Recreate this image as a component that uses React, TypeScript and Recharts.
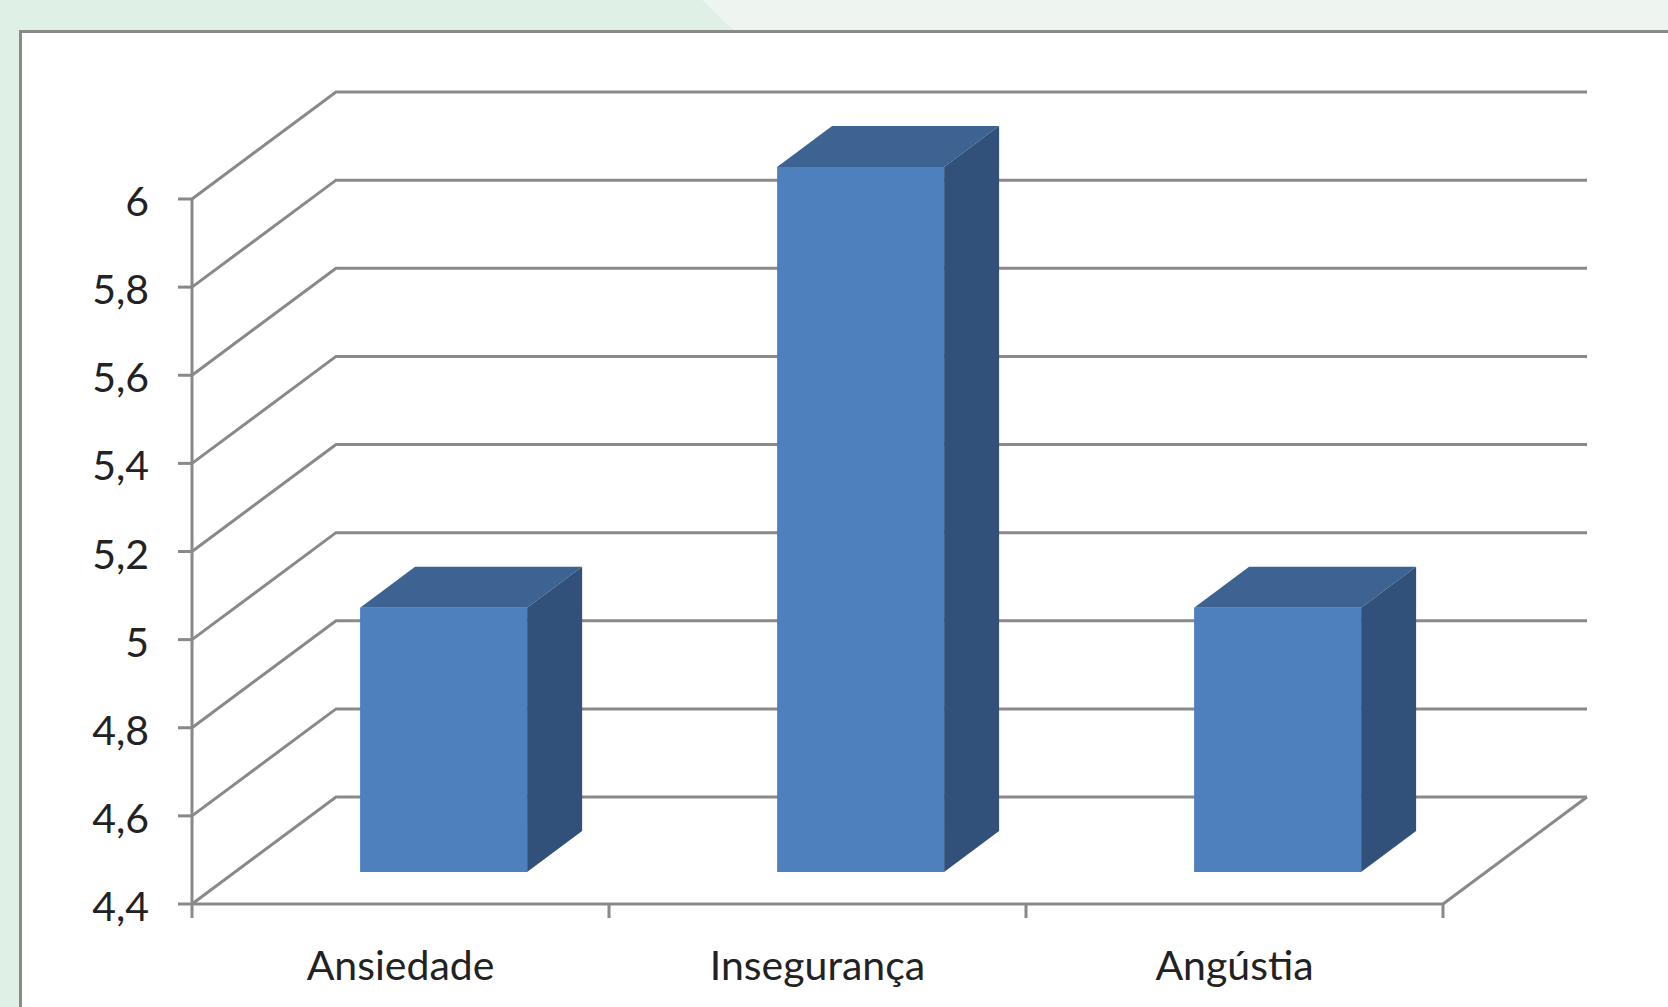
import { BarChart, Bar, XAxis, YAxis, CartesianGrid } from "recharts";

const categories = ["Ansiedade", "Insegurança", "Angústia"];
const values = [5, 6, 5];
const yTicks = [4.4, 4.6, 4.8, 5, 5.2, 5.4, 5.6, 5.8, 6];

const data = categories.map((name, i) => ({ name, value: values[i] }));

const FONT = "Lato, 'Open Sans', sans-serif";
const GRID = "#898989";
const TEXT = "#222";
const LINE_W = 3;

// fake 3D: back wall depth, bar position in the floor, bar depth
const WALL_DX = 144;
const WALL_DY = -107;
const SHIFT_X = 43;
const SHIFT_Y = -32;
const BOX_DX = 55;
const BOX_DY = -41;

function Box3D(props: any) {
  const { x, y, width, height } = props;
  if (!width || height == null) return null;
  const fx = x + SHIFT_X;
  const fy = y + SHIFT_Y;
  const r = fx + width;
  const b = fy + height;
  return (
    <g>
      <polygon
        points={`${fx},${fy} ${fx + BOX_DX},${fy + BOX_DY} ${r + BOX_DX},${fy + BOX_DY} ${r},${fy}`}
        fill="#3C6391"
      />
      <polygon
        points={`${r},${fy} ${r + BOX_DX},${fy + BOX_DY} ${r + BOX_DX},${b + BOX_DY} ${r},${b}`}
        fill="#31517A"
      />
      <rect x={fx} y={fy} width={width} height={height} fill="#4E80BD" />
    </g>
  );
}

function wallLine(p: any) {
  const { x1, y1, x2, y, height } = p;
  const bottom = Math.abs(y1 - (y + height)) < 1;
  return (
    <g key={p.key}>
      <polyline
        points={`${x1},${y1} ${x1 + WALL_DX},${y1 + WALL_DY} ${x2 + WALL_DX},${y1 + WALL_DY}`}
        fill="none"
        stroke={GRID}
        strokeWidth={LINE_W}
      />
      {bottom && (
        <line x1={x2} y1={y1} x2={x2 + WALL_DX} y2={y1 + WALL_DY} stroke={GRID} strokeWidth={LINE_W} />
      )}
    </g>
  );
}

function CategoryTick(props: any) {
  const { x, y, payload, index, visibleTicksCount } = props;
  const axisY = y - 14;
  const half = payload.offset || 0;
  return (
    <g>
      <line x1={x - half} y1={axisY} x2={x - half} y2={axisY + 14} stroke={GRID} strokeWidth={LINE_W} />
      {index === visibleTicksCount - 1 && (
        <line x1={x + half} y1={axisY} x2={x + half} y2={axisY + 14} stroke={GRID} strokeWidth={LINE_W} />
      )}
      <text x={x} y={axisY + 76} textAnchor="middle" fill={TEXT} fontSize={41} fontFamily={FONT}>
        {payload.value}
      </text>
    </g>
  );
}

function ValueTick(props: any) {
  const { x, y, payload } = props;
  return (
    <text x={x} y={y + 17} textAnchor="end" fill={TEXT} fontSize={41} fontFamily={FONT}>
      {String(payload.value).replace(".", ",")}
    </text>
  );
}

export default function App() {
  return (
    <div
      style={{
        position: "absolute",
        left: 0,
        top: 0,
        width: 1668,
        height: 1007,
        overflow: "hidden",
        background: "#dff0e6",
      }}
    >
      <div
        style={{
          position: "absolute",
          left: 0,
          top: 0,
          width: 1668,
          height: 32,
          background: "#eef5f1",
          clipPath: "polygon(702px 0, 100% 0, 100% 100%, 736px 100%)",
        }}
      />
      <div
        style={{
          position: "absolute",
          left: 19,
          top: 30,
          width: 1668,
          height: 1007,
          background: "#fff",
          borderLeft: "3px solid #8a8a8a",
          borderTop: "3px solid #8a8a8a",
          boxSizing: "border-box",
        }}
      />
      <div style={{ position: "absolute", left: 0, top: 0 }}>
        <BarChart
          width={1668}
          height={1007}
          data={data}
          margin={{ top: 199, right: 225, bottom: 43, left: 112 }}
          barCategoryGap="30%"
        >
          <CartesianGrid vertical={false} horizontal={wallLine} />
          <XAxis
            dataKey="name"
            height={60}
            axisLine={{ stroke: GRID, strokeWidth: LINE_W }}
            tickLine={false}
            tickSize={14}
            tickMargin={0}
            tick={CategoryTick}
            interval={0}
          />
          <YAxis
            width={80}
            domain={[4.4, 6]}
            ticks={yTicks}
            axisLine={{ stroke: GRID, strokeWidth: LINE_W }}
            tickLine={{ stroke: GRID, strokeWidth: LINE_W }}
            tickSize={14}
            tickMargin={29}
            tick={ValueTick}
          />
          <Bar dataKey="value" shape={Box3D} isAnimationActive={false} />
        </BarChart>
      </div>
    </div>
  );
}
